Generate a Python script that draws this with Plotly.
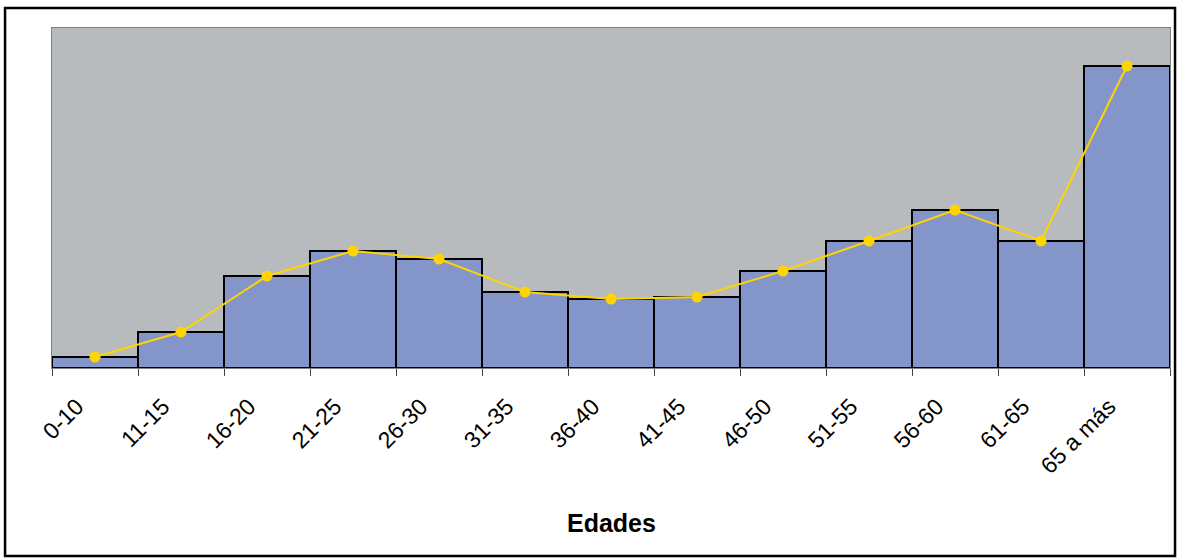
import plotly.graph_objects as go

edades = ["0-10", "11-15", "16-20", "21-25", "26-30", "31-35", "36-40",
          "41-45", "46-50", "51-55", "56-60", "61-65", "65 a más"]
frecuencia = [11, 36, 92, 117, 109, 76, 69, 71, 97, 127, 158, 127, 302]

fig = go.Figure()
fig.add_trace(go.Bar(
    x=edades, y=frecuencia,
    marker=dict(color="#8495CA", line=dict(color="black", width=2)),
))
fig.add_trace(go.Scatter(
    x=edades, y=frecuencia, mode="lines+markers",
    line=dict(color="#FFD400", width=2),
    marker=dict(color="#FFD400", size=11),
))

fig.update_layout(
    width=1178, height=559,
    showlegend=False,
    bargap=0,
    plot_bgcolor="#B7BBBD",
    paper_bgcolor="white",
    margin=dict(l=52, r=8, t=28, b=191),
    font=dict(family="Liberation Sans, Arial", color="black"),
    xaxis=dict(
        type="category", tickson="boundaries", ticks="outside", ticklen=7,
        tickcolor="#444", tickangle=-45, tickfont=dict(size=23),
        ticklabelstandoff=15, ticklabelshift=-18, range=[-0.5, 12.5],
        showline=True, linecolor="#808080", mirror=True, linewidth=1,
        showgrid=False,
    ),
    yaxis=dict(
        range=[0, 340], showticklabels=False, showgrid=False, zeroline=False,
        showline=True, linecolor="#808080", mirror=True, linewidth=1,
    ),
    annotations=[dict(
        text="<b>Edades</b>", xref="paper", yref="paper", x=0.5, y=-0.456,
        showarrow=False, font=dict(size=25), yanchor="middle",
    )],
    shapes=[dict(
        type="rect", xref="paper", yref="paper",
        x0=-0.042, x1=1.0045, y0=-0.553, y1=1.0588,
        line=dict(color="black", width=2.5), layer="below",
    )],
)

# drop the default body margin so the figure fills the window exactly
fig.write_html(
    "out.html",
    config={"displayModeBar": False},
    post_script="document.body.style.margin='0';document.body.style.overflow='hidden';",
)
